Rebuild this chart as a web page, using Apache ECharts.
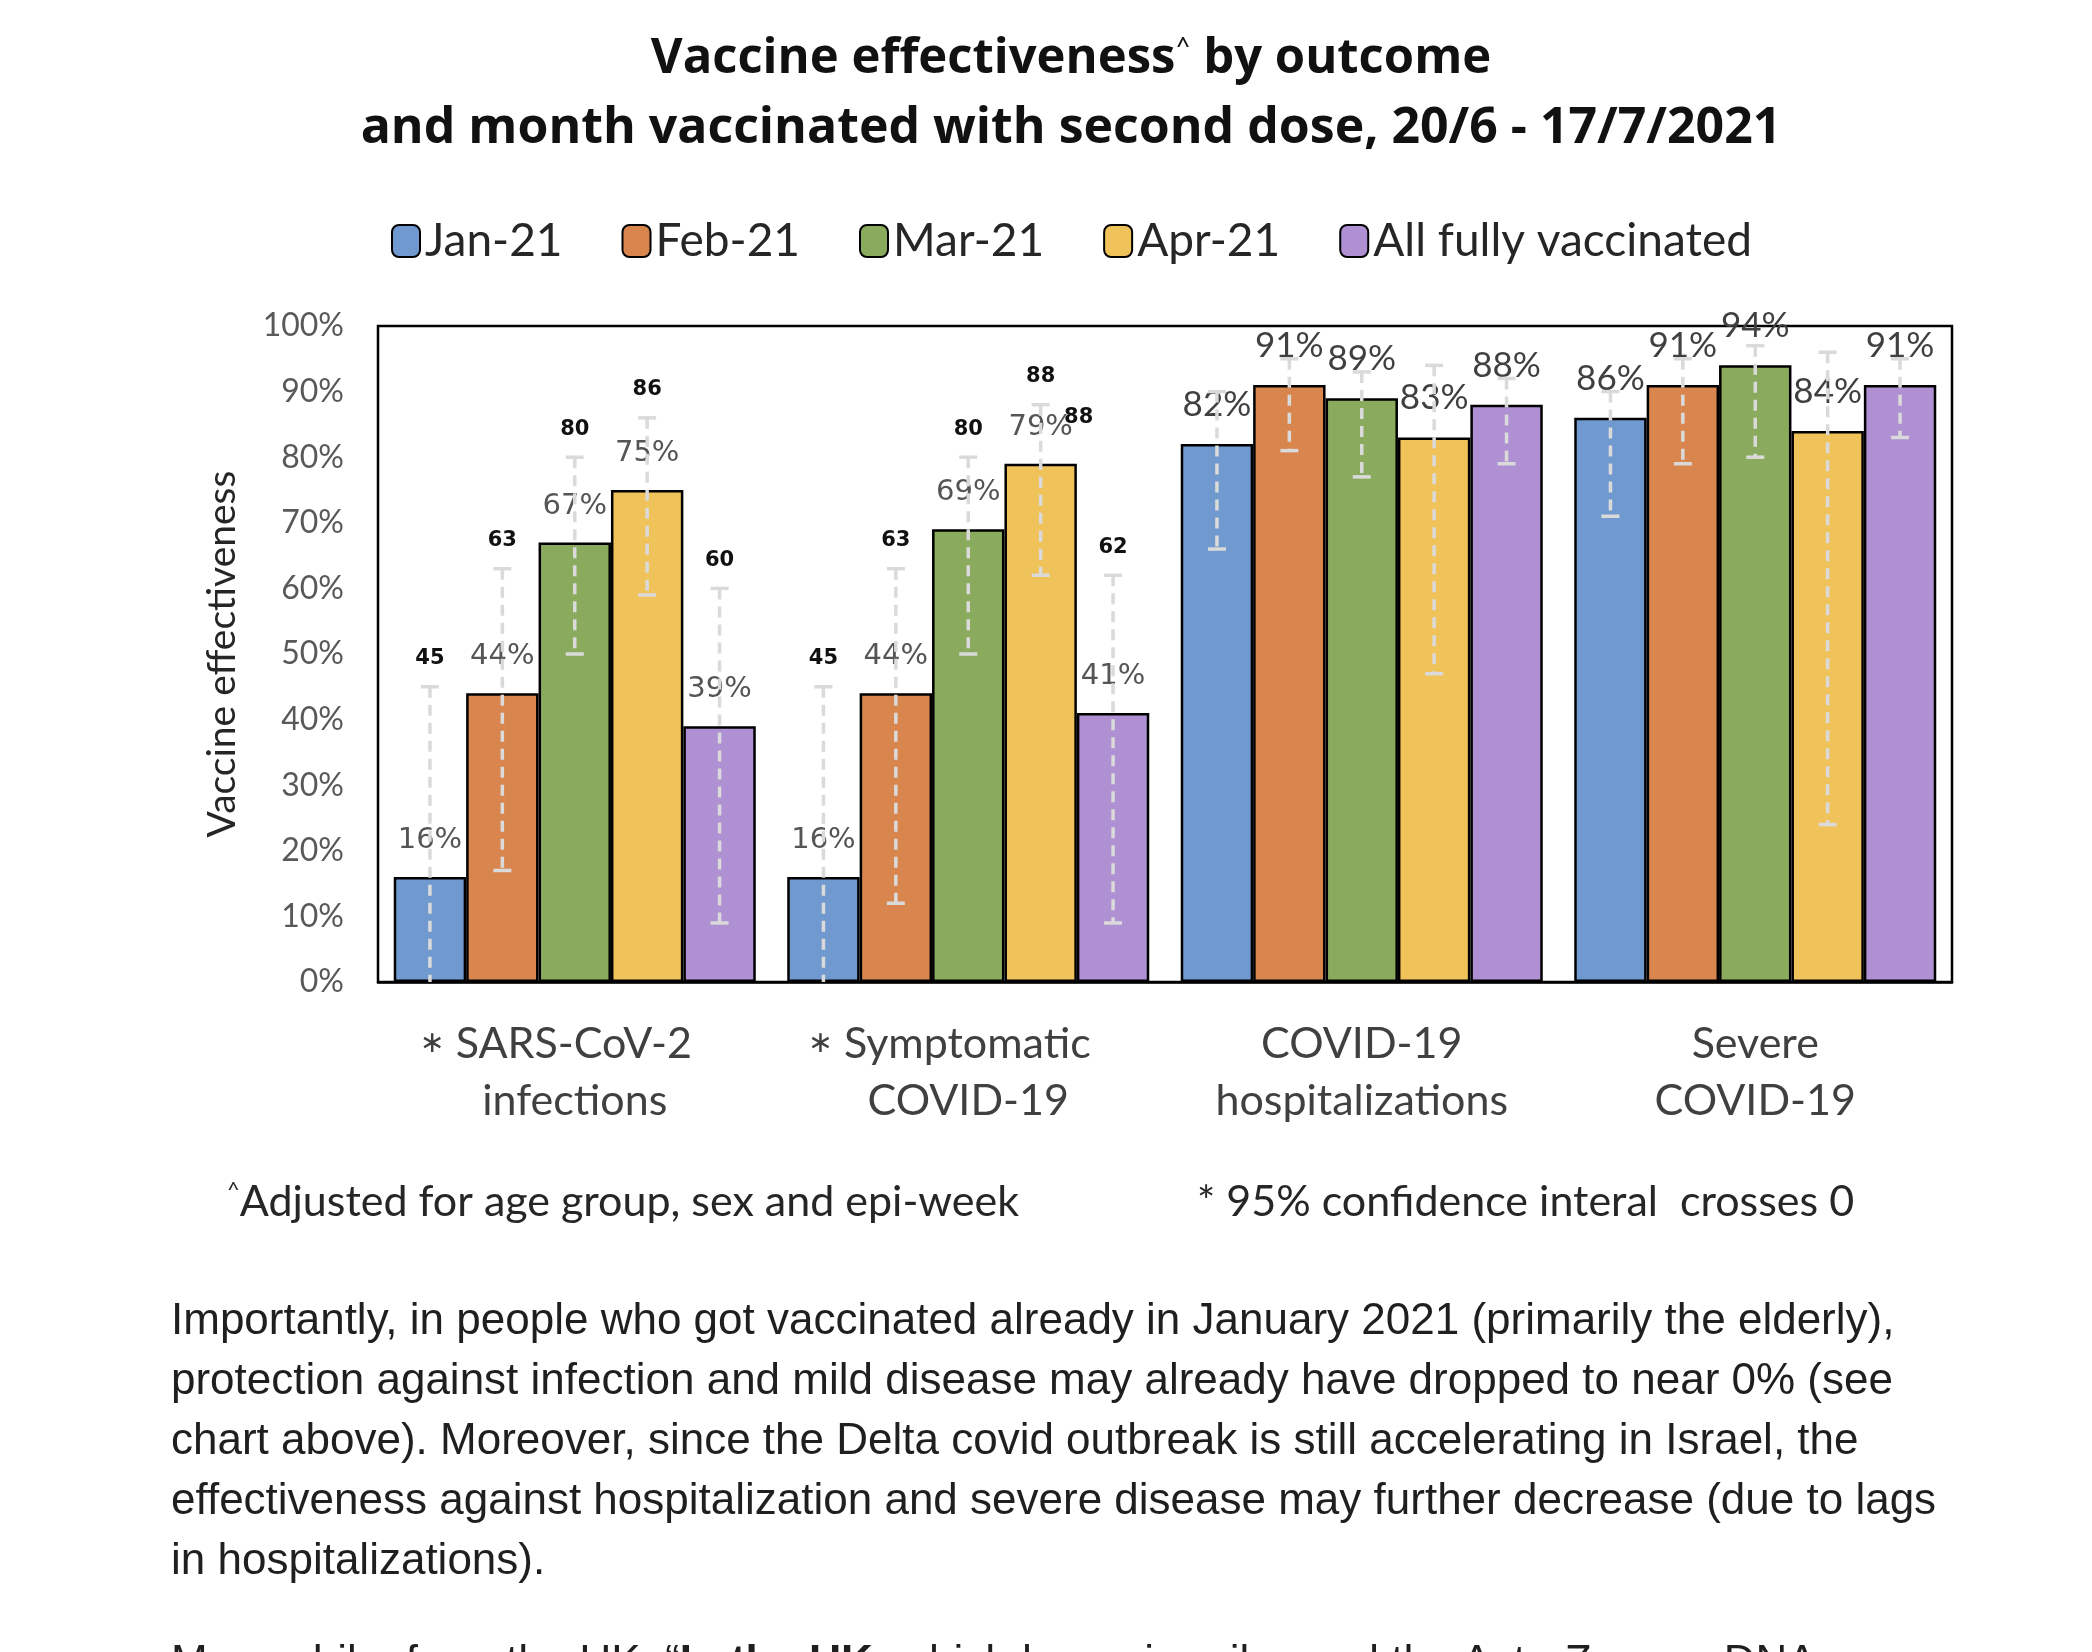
<!DOCTYPE html>
<html>
<head>
<meta charset="utf-8">
<script src="https://cdn.jsdelivr.net/npm/echarts@6/dist/echarts.min.js"></script>
<style>
  html, body { margin: 0; padding: 0; background: #fff; }
  #chart { position: absolute; left: 0; top: 0; width: 2092px; height: 1652px; }
  #text {
    position: absolute; left: 171px; top: 1289px;
    font-family: "Liberation Sans", Arial, sans-serif; font-size: 44px;
    line-height: 60px; color: #1f1f1f; white-space: nowrap;
  }
  #text p { margin: 0 0 42px 0; }
</style>
</head>
<body>
<div id="chart"></div>
<div id="text">
  <p>Importantly, in people who got vaccinated already in January 2021 (primarily the elderly),<br>
  protection against infection and mild disease may already have dropped to near 0% (see<br>
  chart above). Moreover, since the Delta covid outbreak is still accelerating in Israel, the<br>
  effectiveness against hospitalization and severe disease may further decrease (due to lags<br>
  in hospitalizations).</p>
  <p>Meanwhile, from the UK, &ldquo;<b>In the UK</b>, which has primarily used the AstraZeneca DNA</p>
</div>
<script>
// outcomes on the x axis
const outcomes = ["SARS-CoV-2\ninfections", "Symptomatic\nCOVID-19", "COVID-19\nhospitalizations", "Severe\nCOVID-19"];
const crossesZero = [true, true, false, false];
const showUpperLabel = [true, true, false, false];

const months = ["Jan-21", "Feb-21", "Mar-21", "Apr-21", "All fully vaccinated"];
const colors = ["#7099cf", "#d8864e", "#8aab5d", "#f0c25a", "#ae90d3"];

// vaccine effectiveness (%)
const jan = [16, 16, 82, 86];
const feb = [44, 44, 91, 91];
const mar = [67, 69, 89, 94];
const apr = [75, 79, 83, 84];
const allVax = [39, 41, 88, 91];

// 95% CI lower / upper
const janLo = [-8, -8, 66, 71];
const febLo = [17, 12, 81, 79];
const marLo = [50, 50, 77, 80];
const aprLo = [59, 62, 47, 24];
const allLo = [9, 9, 79, 83];

const janHi = [45, 45, 90, 90];
const febHi = [63, 63, 95, 95];
const marHi = [80, 80, 93, 97];
const aprHi = [86, 88, 94, 96];
const allHi = [60, 62, 92, 95];

// stray duplicate CI label in the original (outcome, month, value)
const dupLabels = [[1, 3, 88]];

const values = [jan, feb, mar, apr, allVax];
const lows = [janLo, febLo, marLo, aprLo, allLo];
const highs = [janHi, febHi, marHi, aprHi, allHi];

const CAT_GAP = 0.08;
const FONT = "Lato";

function barCenter(api, cat, k) {
  const band = api.size([1, 0])[0];
  const groupW = band * (1 - CAT_GAP);
  const barW = groupW / months.length;
  return api.coord([cat, 0])[0] - groupW / 2 + (k + 0.5) * barW;
}

const chart = echarts.init(document.getElementById("chart"));

const barSeries = months.map((name, k) => ({
  name: name,
  type: "bar",
  barGap: "0%",
  barCategoryGap: (CAT_GAP * 100) + "%",
  itemStyle: { color: colors[k], borderColor: "#000", borderWidth: 2.5 },
  z: 2,
  data: values[k].map((v, i) => ({
    value: v,
    label: showUpperLabel[i]
      ? { fontFamily: "DejaVu Sans", fontSize: 29, color: "#555" }
      : { fontFamily: FONT, fontSize: 35, color: "#404040" }
  })),
  label: { show: true, position: "top", distance: 22, formatter: "{c}%" }
}));

const ciSeries = months.map((name, k) => ({
  name: "ci-" + k,
  type: "custom",
  z: 5,
  clip: false,
  data: values[k].map((v, i) => [i, lows[k][i], highs[k][i]]),
  encode: { x: 0, y: [1, 2] },
  renderItem: function (params, api) {
    const cat = api.value(0);
    const lo = api.value(1);
    const hi = api.value(2);
    const x = barCenter(api, cat, k);
    const yHi = api.coord([cat, hi])[1];
    const yLo = api.coord([cat, Math.max(lo, 0)])[1];
    const st = { stroke: "#dadada", lineWidth: 3.5 };
    const children = [
      { type: "line", shape: { x1: x, y1: yHi, x2: x, y2: yLo }, style: Object.assign({ lineDash: [11, 7] }, st) },
      { type: "line", shape: { x1: x - 9, y1: yHi, x2: x + 9, y2: yHi }, style: st }
    ];
    if (lo >= 0) {
      children.push({ type: "line", shape: { x1: x - 9, y1: yLo, x2: x + 9, y2: yLo }, style: st });
    }
    if (showUpperLabel[cat]) {
      children.push({
        type: "text",
        style: {
          x: x, y: yHi - 28, text: String(hi), align: "center", verticalAlign: "middle",
          fontFamily: "DejaVu Sans", fontWeight: "bold", fontSize: 21, fill: "#111"
        }
      });
    }
    return { type: "group", children: children };
  }
}));

const dupSeries = {
  name: "dup",
  type: "custom",
  z: 6,
  clip: false,
  data: dupLabels,
  renderItem: function (params, api) {
    const cat = api.value(0);
    const k = api.value(1);
    const v = api.value(2);
    const x = barCenter(api, cat, k) + 38;
    const y = api.coord([cat, v])[1] + 13;
    return {
      type: "text",
      style: {
        x: x, y: y, text: String(v), align: "center", verticalAlign: "middle",
        fontFamily: "DejaVu Sans", fontWeight: "bold", fontSize: 21, fill: "#111"
      }
    };
  }
};

chart.setOption({
  backgroundColor: "#fff",
  animation: false,
  graphic: [
    {
      type: "text", x: 1071, y: 59,
      style: {
        text: "Vaccine effectiveness{s|^} by outcome", align: "center", verticalAlign: "middle",
        fontFamily: "Open Sans", fontWeight: "bold", fontSize: 49, fill: "#111",
        rich: { s: { fontFamily: FONT, fontSize: 26, fontWeight: "normal", verticalAlign: "top", padding: [0, 0, 22, 0] } }
      }
    },
    {
      type: "text", x: 1071, y: 129,
      style: {
        text: "and month vaccinated with second dose, 20/6 - 17/7/2021", align: "center", verticalAlign: "middle",
        fontFamily: "Open Sans", fontWeight: "bold", fontSize: 50, fill: "#111"
      }
    },
    {
      type: "text", x: 227, y: 1202,
      style: {
        text: "{s|^}Adjusted for age group, sex and epi-week", align: "left", verticalAlign: "middle",
        fontFamily: FONT, fontSize: 43, fill: "#262626",
        rich: { s: { fontFamily: FONT, fontSize: 22, padding: [0, 0, 24, 0] } }
      }
    },
    {
      type: "text", x: 1197, y: 1202,
      style: {
        text: "* 95% confidence interal  crosses 0", align: "left", verticalAlign: "middle",
        fontFamily: FONT, fontSize: 43, fill: "#262626"
      }
    }
  ],
  legend: {
    data: months,
    left: 386,
    top: 213,
    itemWidth: 28,
    itemHeight: 32,
    itemGap: 59,
    textStyle: { fontFamily: FONT, fontSize: 46, color: "#262626" }
  },
  grid: {
    left: 378, right: 140, top: 326, bottom: 670,
    show: true, borderColor: "#000", borderWidth: 2.5, backgroundColor: "transparent"
  },
  xAxis: {
    type: "category",
    data: outcomes,
    axisLine: { show: true, lineStyle: { color: "#000", width: 2.5 } },
    axisTick: { show: false },
    axisLabel: {
      margin: 34,
      interval: 0,
      formatter: function (val, idx) {
        const lines = val.split("\n");
        const first = crossesZero[idx] ? "{a|∗} " + lines[0] + "{pad|}" : lines[0];
        return first + "\n" + lines[1];
      },
      fontFamily: FONT, fontSize: 43, lineHeight: 57, color: "#404040",
      rich: {
        a: { fontFamily: "DejaVu Sans", fontSize: 30, color: "#404040" },
        pad: { width: 38 }
      }
    }
  },
  yAxis: {
    type: "value",
    min: 0, max: 100, interval: 10,
    name: "Vaccine effectiveness",
    nameLocation: "middle",
    nameGap: 136,
    nameTextStyle: { fontFamily: FONT, fontSize: 39, color: "#262626" },
    axisLine: { show: false },
    axisTick: { show: false },
    splitLine: { show: false },
    axisLabel: { formatter: "{value}%", margin: 34, fontFamily: FONT, fontSize: 32, color: "#595959" }
  },
  series: barSeries.concat(ciSeries, [dupSeries])
});
</script>
</body>
</html>
